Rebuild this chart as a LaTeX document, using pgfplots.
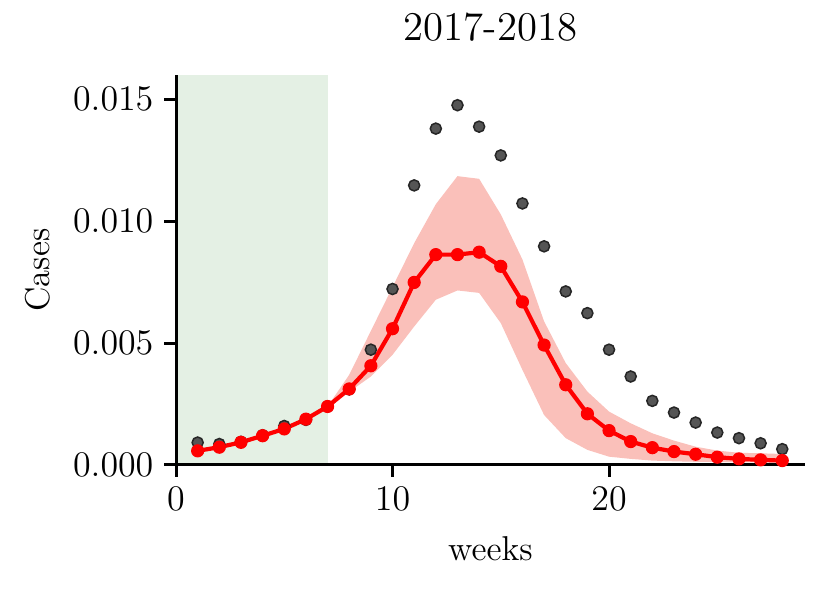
\documentclass[border=0pt]{standalone}
\usepackage{pgfplots}
\pgfplotsset{compat=1.18}
\definecolor{shadegreen}{RGB}{228,240,228}
\definecolor{bandpink}{RGB}{250,192,186}
\definecolor{obsgray}{RGB}{85,85,85}
\begin{document}
\begin{tikzpicture}
\useasboundingbox (-58.67pt,-42.33pt) rectangle (217.67pt,155pt);
\begin{axis}[
  at={(0,0)}, anchor=south west,
  scale only axis, width=209.67pt, height=130pt,
  xmin=0, xmax=29.05, ymin=0, ymax=0.016,
  axis x line*=bottom, axis y line*=left,
  axis on top,
  axis line style={line width=1pt, black},
  every tick/.style={black, line width=1pt},
  tick align=outside, major tick length=4pt,
  xtick={0,10,20}, ytick={0,0.005,0.01,0.015},
  scaled y ticks=false,
  yticklabel style={/pgf/number format/.cd, fixed, fixed zerofill, precision=3},
  tick label style={font=\fontsize{11.5}{13}\selectfont},
  xlabel={weeks}, ylabel={Cases}, title={2017-2018},
  label style={font=\fontsize{11.5}{13}\selectfont},
  xlabel style={at={(axis description cs:0.5,0)}, anchor=center, yshift=-28pt},
  ylabel style={at={(axis description cs:0,0.5)}, anchor=center, yshift=46pt},
  title style={at={(axis description cs:0.5,1)}, anchor=center, yshift=10pt, font=\fontsize{13.6}{15}\selectfont},
  clip=false,
]
\addplot[draw=none, fill=shadegreen] coordinates {(0,0) (7,0) (7,0.016) (0,0.016)} -- cycle;

\addplot[draw=none, fill=bandpink] table[row sep=\\] {
x y\\
7 0.0024\\ 8 0.0037\\ 9 0.0055\\ 10 0.0073\\ 11 0.0091\\ 12 0.0107\\ 13 0.01185\\ 14 0.01174\\
15 0.01028\\ 16 0.00843\\ 17 0.00589\\ 18 0.00418\\ 19 0.00301\\ 20 0.00219\\ 21 0.00171\\
22 0.0013\\ 23 0.0010\\ 24 0.00075\\ 25 0.00059\\ 26 0.0005\\ 27 0.00048\\ 28 0.00045\\
28 0.0001\\ 27 0.0001\\ 26 0.00011\\ 25 0.00012\\ 24 0.00013\\ 23 0.00015\\ 22 0.00018\\ 21 0.00025\\
20 0.00034\\ 19 0.00062\\ 18 0.0011\\ 17 0.00205\\ 16 0.0039\\ 15 0.00582\\ 14 0.00706\\
13 0.00716\\ 12 0.00678\\ 11 0.00568\\ 10 0.00452\\ 9 0.00363\\ 8 0.0030\\ 7 0.0024\\
} -- cycle;

\addplot[only marks, mark=*, mark size=1.85pt, mark options={fill=obsgray, draw=black!85, line width=0.5pt}] table[row sep=\\] {
x y\\
1 0.00092\\ 2 0.00086\\ 3 0.00095\\ 4 0.00122\\ 5 0.0016\\ 6 0.00185\\ 7 0.0024\\ 8 0.0031\\
9 0.00473\\ 10 0.00722\\ 11 0.01147\\ 12 0.0138\\ 13 0.01476\\ 14 0.01388\\ 15 0.0127\\
16 0.01073\\ 17 0.00897\\ 18 0.00712\\ 19 0.00623\\ 20 0.00473\\ 21 0.00363\\ 22 0.00263\\
23 0.00215\\ 24 0.00174\\ 25 0.00133\\ 26 0.0011\\ 27 0.00089\\ 28 0.00065\\
};

\addplot[red, line width=1.4pt, mark=*, mark size=2pt, mark options={fill=red, draw=red, line width=0.4pt}] table[row sep=\\] {
x y\\
1 0.00058\\ 2 0.00073\\ 3 0.00093\\ 4 0.0012\\ 5 0.00148\\ 6 0.00188\\ 7 0.0024\\ 8 0.00312\\
9 0.00407\\ 10 0.00559\\ 11 0.00749\\ 12 0.00863\\ 13 0.00863\\ 14 0.00873\\ 15 0.00815\\
16 0.00669\\ 17 0.00492\\ 18 0.00329\\ 19 0.0021\\ 20 0.00141\\ 21 0.00096\\ 22 0.00071\\
23 0.00055\\ 24 0.00044\\ 25 0.00032\\ 26 0.00025\\ 27 0.00021\\ 28 0.00018\\
};
\end{axis}
\end{tikzpicture}
\end{document}
